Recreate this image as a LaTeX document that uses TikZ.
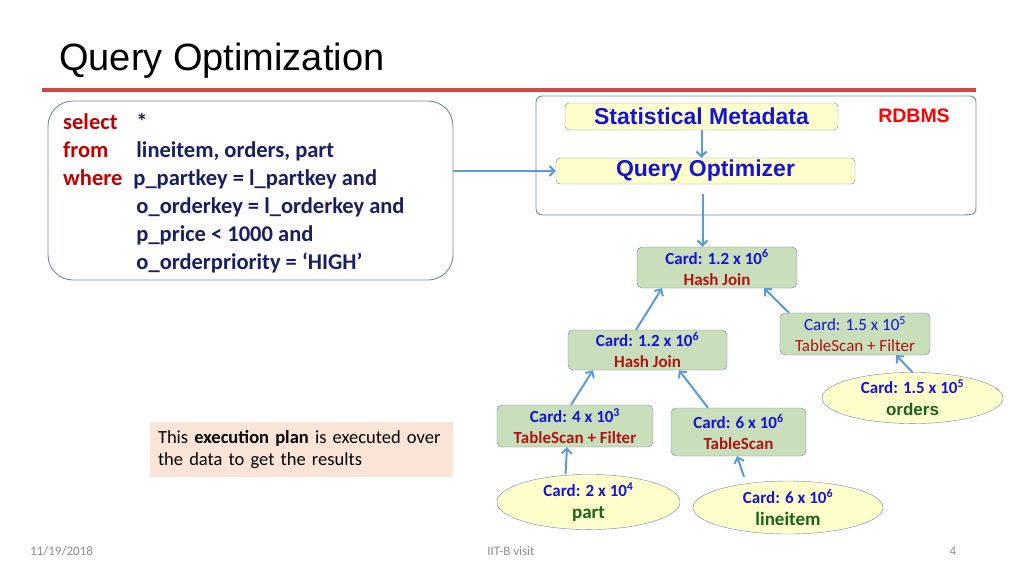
\documentclass[tikz,border=0pt]{standalone}
\usepackage{fontspec}
\setmainfont{Carlito}
\newfontfamily\arialfont{Liberation Sans}
\usepackage{tikz}
\usetikzlibrary{arrows.meta,
                positioning,
                shapes.geometric}
\definecolor{flowblue}{RGB}{91,155,213}
\definecolor{boxline}{RGB}{110,135,170}
\definecolor{kwred}{RGB}{192,0,0}
\definecolor{sqlnavy}{RGB}{25,30,95}
\definecolor{metablue}{RGB}{20,20,210}
\definecolor{opred}{RGB}{175,20,20}
\definecolor{plangreen}{RGB}{201,222,186}
\definecolor{leafyellow}{RGB}{255,255,204}
\definecolor{leafgreen}{RGB}{25,100,25}
\definecolor{notepeach}{RGB}{251,229,214}
\definecolor{rulered}{RGB}{208,72,72}
\definecolor{footgray}{RGB}{140,140,140}
\newcommand{\card}[2]{{\color{metablue}Card: #1 x 10\textsuperscript{#2}}}

\begin{document}
\begin{tikzpicture}[
		x=1pt, y=-1pt,
		flow/.style={draw=flowblue, line width=2pt, -{Straight Barb[length=5pt,width=10pt]}},
		metabox/.style={draw=boxline, fill=leafyellow, rounded corners=4pt, inner sep=0pt,
			text=metablue, font=\arialfont\bfseries\fontsize{23}{27}\selectfont},
		planbox/.style={draw=boxline, fill=plangreen, rounded corners=5pt, align=center,
			inner sep=0pt, font=\bfseries\fontsize{17}{21}\selectfont},
		leaf/.style={ellipse, draw=boxline, fill=leafyellow, align=center, inner sep=0pt,
			font=\bfseries\fontsize{17}{22}\selectfont},
		foot/.style={text=footgray, inner sep=0pt, font=\fontsize{13}{15}\selectfont}
	]
		\useasboundingbox (0,0) rectangle (1024,576);
		% heading
		\node [anchor=base west, inner sep=0pt, font=\arialfont\fontsize{38}{44}\selectfont] (title) at (59,70) {Query Optimization};
		\draw [rulered, line width=4pt] (42,90) -- (976,90);
		% query
		\node [draw=boxline, line width=0.9pt, rounded corners=25pt, minimum width=405pt, minimum height=179pt] (sql) at (250.5,190.5) {};
		\node [anchor=base west, inner sep=0pt, text=sqlnavy, font=\bfseries\fontsize{22.5}{28}\selectfont] (sqltext) at (63,129)
			{\begin{tabular}[t]{@{}l@{\hspace{11pt}}l@{}}
				\color{kwred}select & \hspace{3pt}* \\
				\color{kwred}from & \hspace{3pt}lineitem, orders, part \\
				\color{kwred}where & p\_partkey = l\_partkey and \\
				 & \hspace{3pt}o\_orderkey = l\_orderkey and \\
				 & \hspace{3pt}p\_price < 1000 and \\
				 & \hspace{3pt}o\_orderpriority = ‘HIGH’
			\end{tabular}};
		% rdbms
		\draw [boxline, line width=0.9pt, rounded corners=6pt] (958,215) -- (536,215) -- (536,96) -- (976,96) -- (976,197)
			[sharp corners] .. controls (976,215) .. (958,215) -- cycle;
		\node [text=red, inner sep=0pt, font=\arialfont\bfseries\fontsize{19.5}{23}\selectfont] (rdbms) at (914,116) {RDBMS};
		\node [metabox, minimum width=273pt, minimum height=27pt] (stats) at (701.5,116.5) {Statistical Metadata};
		\node [metabox, minimum width=299pt, minimum height=26pt] (qopt) at (705.5,171) {Query Optimizer};
		% plan
		\node [planbox, minimum width=160pt, minimum height=41pt] (hjtop) at (717,267.5) {\card{1.2}{6}\\{\color{opred}Hash Join}};
		\node [planbox, minimum width=159pt, minimum height=40pt] (hjleft) at (647.5,350) {\card{1.2}{6}\\{\color{opred}Hash Join}};
		\node [planbox, font=\mdseries\fontsize{17}{21}\selectfont, minimum width=150pt, minimum height=42pt] (scanorders) at (855,334) {\card{1.5}{5}\\{\color{opred}TableScan + Filter}};
		\node [planbox, minimum width=156pt, minimum height=42pt] (scanpart) at (575,426) {\card{4}{3}\\{\color{opred}TableScan + Filter}};
		\node [planbox, minimum width=135pt, minimum height=48pt] (scanline) at (738.5,432) {\card{6}{6}\\{\color{opred}TableScan}};
		\node [leaf, minimum width=181pt, minimum height=40pt] (orders) at (912.5,398) {\card{1.5}{5}\\{\arialfont\color{leafgreen}orders}};
		\node [leaf, minimum width=183pt, minimum height=48pt] (part) at (588.5,502) {\card{2}{4}\\{\fontsize{19}{22}\selectfont\color{leafgreen}part}};
		\node [leaf, minimum width=190pt, minimum height=53pt] (lineitem) at (788,507.5) {\card{6}{6}\\{\fontsize{19}{22}\selectfont\color{leafgreen}lineitem}};
		% note
		\node [fill=notepeach, minimum width=303pt, minimum height=53pt, inner sep=8pt, text width=287pt, align=left,
			font=\fontsize{18.5}{22}\selectfont] (note) at (301.5,449.5) {This \textbf{execution plan} is executed over the data to get the results};
		\path
			(sql.east |- qopt.west) edge [flow] (qopt.west)
			(stats.south) edge [flow] (stats.south |- qopt.north)
			([xshift=-3pt]qopt.south) edge [flow, shorten <=10pt] ([xshift=-3pt]qopt.south |- hjtop.north)
			([xshift=-11.5pt]hjleft.north) edge [flow] ([xshift=-55pt]hjtop.south)
			([xshift=-66pt]scanorders.north) edge [flow] ([xshift=47pt]hjtop.south)
			(orders.north) edge [flow] ([xshift=41pt]scanorders.south)
			([xshift=-4pt]scanpart.north) edge [flow] ([xshift=-54.5pt]hjleft.south)
			([xshift=-30.5pt]scanline.north) edge [flow] ([xshift=31.5pt]hjleft.south)
			([xshift=-23pt]part.north) edge [flow] ([xshift=-8pt]scanpart.south)
			([xshift=-44pt,yshift=4pt]lineitem.north) edge [flow] ([xshift=-1.5pt]scanline.south);
		% footer
		\node [foot, anchor=west] (date) at (30,551) {11/19/2018};
		\node [foot] (venue) at (511,551) {IIT-B visit};
		\node [foot] (pagenum) at (953,551) {4};
	\end{tikzpicture}
\end{document}
